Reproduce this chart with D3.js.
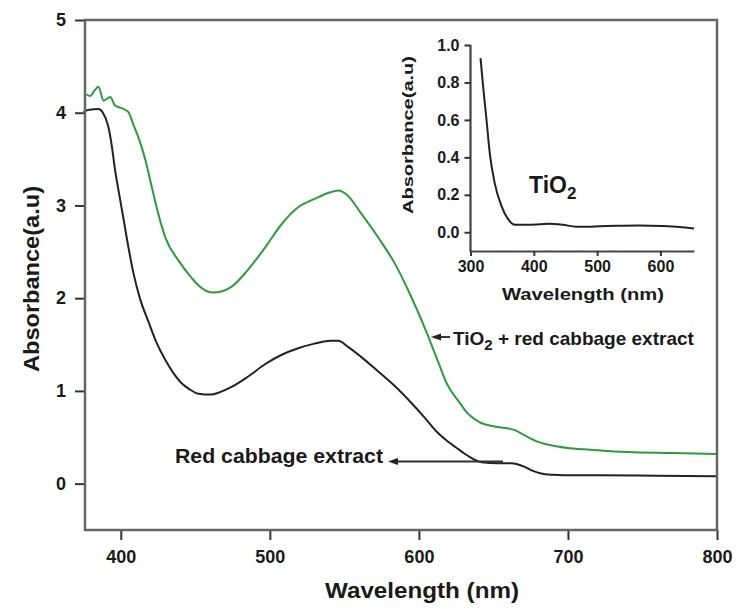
<!DOCTYPE html>
<html>
<head>
<meta charset="utf-8">
<script src="https://cdn.jsdelivr.net/npm/d3@7"></script>
<style>
  html, body { margin: 0; padding: 0; background: #fff; }
  svg text { font-family: "Liberation Sans", Arial, sans-serif; font-weight: bold; fill: #1a1a1a; }
</style>
</head>
<body>
<div id="chart"></div>
<script>
// values
var cabbageWl = [375, 378, 385, 388, 391.5, 394, 396, 398.5, 402, 405, 408.5, 413, 418.5, 424, 430, 435, 441, 446, 452, 460, 467, 474, 485, 497, 508, 519, 530, 541, 546, 552, 561, 572, 584, 595, 604, 612, 619, 625, 630, 636, 642, 653, 662, 666, 671, 676, 682, 690, 697, 720, 760, 800];
var cabbageAbs = [4.01, 4.03, 4.04, 4.0, 3.86, 3.64, 3.40, 3.16, 2.84, 2.56, 2.27, 1.99, 1.75, 1.52, 1.33, 1.2, 1.08, 1.02, 0.97, 0.96, 0.99, 1.04, 1.15, 1.29, 1.39, 1.46, 1.51, 1.54, 1.54, 1.48, 1.37, 1.22, 1.05, 0.87, 0.71, 0.56, 0.46, 0.39, 0.33, 0.27, 0.23, 0.22, 0.22, 0.21, 0.18, 0.14, 0.11, 0.095, 0.09, 0.09, 0.085, 0.08];

var mixWl = [377, 379.5, 382, 385, 388.5, 393, 396, 400.5, 405, 408.5, 413, 416.5, 420.5, 425, 430, 439, 447.5, 452, 462, 474, 485, 497, 508, 519, 530, 540, 546, 552, 561, 572.5, 584, 595, 606, 613, 619, 628, 631, 640, 653, 664, 671, 680, 693, 720, 740, 770, 800];
var mixAbs = [4.20, 4.18, 4.23, 4.28, 4.13, 4.17, 4.08, 4.05, 4.01, 3.87, 3.68, 3.49, 3.22, 2.92, 2.65, 2.40, 2.22, 2.14, 2.06, 2.12, 2.30, 2.55, 2.80, 2.98, 3.07, 3.14, 3.16, 3.11, 2.92, 2.66, 2.37, 2.01, 1.60, 1.31, 1.07, 0.86, 0.79, 0.67, 0.61, 0.58, 0.52, 0.45, 0.40, 0.36, 0.34, 0.33, 0.32];

var tio2Wl = [315.8, 319.9, 325.3, 330.5, 338.4, 349, 359.4, 370, 390, 409.5, 425, 446, 467, 490, 515, 540, 567, 604, 630, 653];
var tio2Abs = [0.93, 0.78, 0.60, 0.42, 0.26, 0.14, 0.07, 0.04, 0.04, 0.043, 0.046, 0.04, 0.03, 0.03, 0.033, 0.035, 0.036, 0.033, 0.028, 0.02];

var mainXTicks = [400, 500, 600, 700, 800];
var mainYTicks = [0, 1, 2, 3, 4, 5];
var insetXTicks = [300, 400, 500, 600];
var insetYTicks = [0, 0.2, 0.4, 0.6, 0.8, 1.0];

function zip(xs, ys) { return xs.map(function (x, i) { return { x: x, y: ys[i] }; }); }

var W = 737, H = 610;
var svg = d3.select("#chart").append("svg").attr("width", W).attr("height", H);

// main plot
var x = d3.scaleLinear().domain([376, 800]).range([85, 717]);
var y = d3.scaleLinear().domain([-0.5, 5]).range([530, 20]);

var line = d3.line()
  .x(function (d) { return x(d.x); })
  .y(function (d) { return y(d.y); })
  .curve(d3.curveMonotoneX);

svg.append("path").datum(zip(mixWl, mixAbs)).attr("d", line)
  .attr("fill", "none").attr("stroke", "#2e9b3e").attr("stroke-width", 2);
svg.append("path").datum(zip(cabbageWl, cabbageAbs)).attr("d", line)
  .attr("fill", "none").attr("stroke", "#222").attr("stroke-width", 2);

var gx = svg.append("g").attr("transform", "translate(0,530)")
  .call(d3.axisBottom(x).tickValues(mainXTicks).tickSize(10).tickPadding(10));
var gy = svg.append("g").attr("transform", "translate(85,0)")
  .call(d3.axisLeft(y).tickValues(mainYTicks).tickSize(10).tickPadding(9)
    .tickFormat(d3.format("d")));
[gx, gy].forEach(function (g) {
  g.select(".domain").remove();
  g.selectAll(".tick line").attr("stroke", "#333").attr("stroke-width", 2);
  g.selectAll(".tick text").attr("font-size", 18).attr("fill", "#1a1a1a");
});

svg.append("rect").attr("x", 85).attr("y", 20).attr("width", 717 - 85).attr("height", 510)
  .attr("fill", "none").attr("stroke", "#666").attr("stroke-width", 2.5);

svg.append("text").attr("x", 422).attr("y", 598).attr("text-anchor", "middle")
  .attr("font-size", 22).attr("textLength", 194).attr("lengthAdjust", "spacingAndGlyphs")
  .text("Wavelength (nm)");
svg.append("text").attr("transform", "translate(39,279) rotate(-90)")
  .attr("text-anchor", "middle").attr("font-size", 22).attr("textLength", 186)
  .attr("lengthAdjust", "spacingAndGlyphs").text("Absorbance(a.u)");

// annotations
function arrowLeft(tipX, yy, endX) {
  svg.append("line").attr("x1", tipX + 6).attr("x2", endX).attr("y1", yy).attr("y2", yy)
    .attr("stroke", "#333").attr("stroke-width", 2);
  svg.append("path")
    .attr("d", "M" + tipX + "," + yy + "L" + (tipX + 10) + "," + (yy - 3.5) + "L" + (tipX + 10) + "," + (yy + 3.5) + "Z")
    .attr("fill", "#222");
}
arrowLeft(431, 337, 450);
var t1 = svg.append("text").attr("x", 453).attr("y", 345).attr("font-size", 19);
t1.append("tspan").text("TiO");
t1.append("tspan").attr("font-size", 15).attr("dy", 5).text("2");
t1.append("tspan").attr("dy", -5).text(" + red cabbage extract");

arrowLeft(388, 461.5, 503);
svg.append("text").attr("x", 175).attr("y", 463).attr("font-size", 20)
  .attr("textLength", 208).attr("lengthAdjust", "spacingAndGlyphs").text("Red cabbage extract");

// inset
var ix = d3.scaleLinear().domain([300, 653]).range([470.5, 694]);
var iy = d3.scaleLinear().domain([-0.1, 1.0]).range([251, 45]);
var iline = d3.line()
  .x(function (d) { return ix(d.x); })
  .y(function (d) { return iy(d.y); })
  .curve(d3.curveMonotoneX);

svg.append("path").datum(zip(tio2Wl, tio2Abs)).attr("d", iline)
  .attr("fill", "none").attr("stroke", "#222").attr("stroke-width", 2);

var igx = svg.append("g").attr("transform", "translate(0,251)")
  .call(d3.axisBottom(ix).tickValues(insetXTicks).tickSize(5).tickPadding(5).tickSizeOuter(0));
var igy = svg.append("g").attr("transform", "translate(470.5,0)")
  .call(d3.axisLeft(iy).tickValues(insetYTicks).tickSize(6).tickPadding(5).tickSizeOuter(0)
    .tickFormat(d3.format(".1f")));
[igx, igy].forEach(function (g) {
  g.select(".domain").attr("stroke", "#444").attr("stroke-width", 2.2);
  g.selectAll(".tick line").attr("stroke", "#333").attr("stroke-width", 2);
  g.selectAll(".tick text").attr("font-size", 16).attr("fill", "#1a1a1a");
});
igy.select(".domain").attr("d", "M0,45V251H1");

svg.append("text").attr("x", 583).attr("y", 300).attr("text-anchor", "middle")
  .attr("font-size", 17).attr("textLength", 162).attr("lengthAdjust", "spacingAndGlyphs")
  .text("Wavelength (nm)");
svg.append("text").attr("transform", "translate(413,135) rotate(-90)")
  .attr("text-anchor", "middle").attr("font-size", 15).attr("textLength", 158)
  .attr("lengthAdjust", "spacingAndGlyphs").text("Absorbance(a.u)");

var t2 = svg.append("text").attr("x", 529).attr("y", 193).attr("font-size", 23);
t2.append("tspan").text("TiO");
t2.append("tspan").attr("font-size", 17).attr("dy", 6).text("2");
</script>
</body>
</html>
